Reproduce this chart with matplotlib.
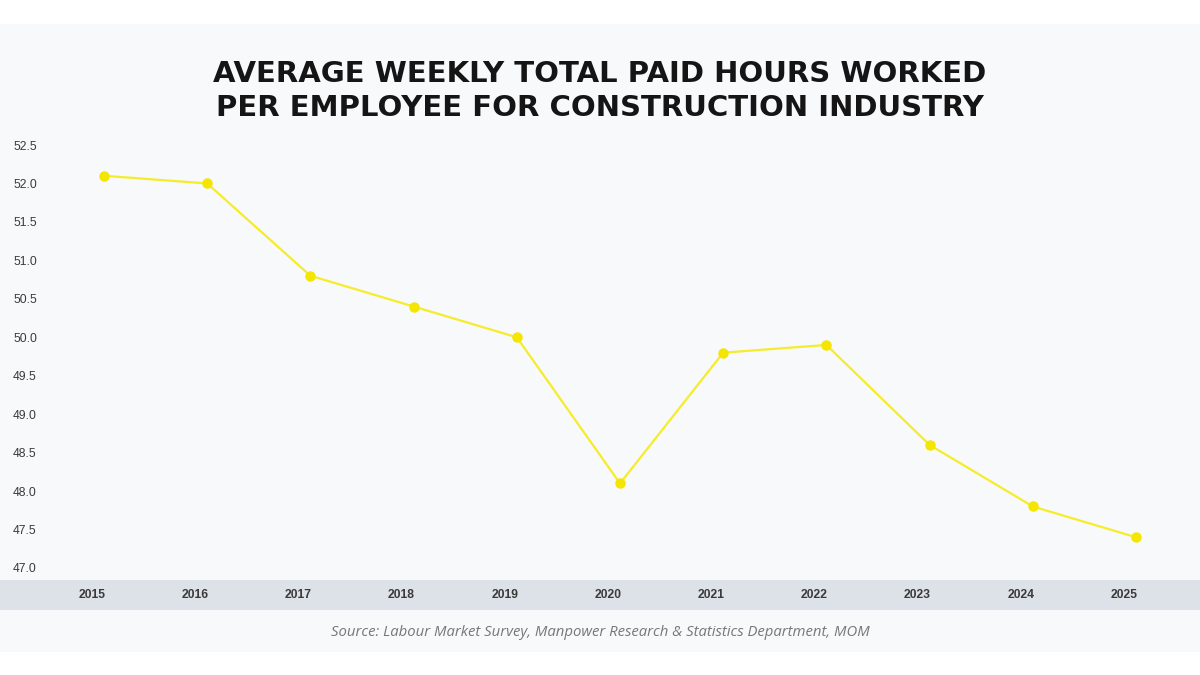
import matplotlib
matplotlib.use("Agg")
import matplotlib.pyplot as plt
from matplotlib.patches import Rectangle
import matplotlib.transforms as mtransforms

years = [2015, 2016, 2017, 2018, 2019, 2020, 2021, 2022, 2023, 2024, 2025]
hours = [52.1, 52.0, 50.8, 50.4, 50.0, 48.1, 49.8, 49.9, 48.6, 47.8, 47.4]
yticks = [47.0, 47.5, 48.0, 48.5, 49.0, 49.5, 50.0, 50.5, 51.0, 51.5, 52.0, 52.5]
title = "AVERAGE WEEKLY TOTAL PAID HOURS WORKED\nPER EMPLOYEE FOR CONSTRUCTION INDUSTRY"
source = "Source: Labour Market Survey, Manpower Research & Statistics Department, MOM"

W, H = 1200, 675
fig = plt.figure(figsize=(12, 6.75), dpi=100)
fig.patch.set_facecolor("white")

def fy(py):
    return 1 - py / H

# background axes for panel and band
bg = fig.add_axes([0, 0, 1, 1], zorder=-5)
bg.set_xlim(0, W)
bg.set_ylim(H, 0)
bg.axis("off")
bg.add_patch(Rectangle((0, 24), W, 652 - 24, facecolor="#f8f9fb", edgecolor="none"))
bg.add_patch(Rectangle((0, 580), W, 30, facecolor="#dde1e8", edgecolor="none"))

ax = fig.add_axes([0, fy(580), 1, (580 - 140) / H], zorder=1)
ax.set_facecolor("none")
px_per_half = (568 - 145) / 11.0
ax.set_ylim(47.0 - 12 / px_per_half * 0.5, 52.5 + 5 / px_per_half * 0.5)
px_per_year = (1136 - 104) / 10.0
ax.set_xlim(2015 - 104 / px_per_year, 2025 + 64 / px_per_year)

ax.plot(years, hours, color="#f5ec2a", lw=1.6, marker="o", ms=6.5,
        markerfacecolor="#f4e600", markeredgecolor="#f4e600", zorder=3)

for s in ax.spines.values():
    s.set_visible(False)

ax.set_yticks(yticks)
ax.set_yticklabels([f"{v:.1f}" for v in yticks])
ax.tick_params(axis="y", length=0, pad=-9.4, labelsize=8.7, labelcolor="#3a3a3a")
for lbl in ax.get_yticklabels():
    lbl.set_horizontalalignment("left")
    lbl.set_family("Liberation Sans")

ax.set_xticks(years)
ax.set_xticklabels([str(y) for y in years])
ax.tick_params(axis="x", length=0, pad=6.5, labelsize=8.7, labelcolor="#3a3a3a")
offset = mtransforms.ScaledTranslation(-12 / 100, 0, fig.dpi_scale_trans)
for lbl in ax.get_xticklabels():
    lbl.set_transform(lbl.get_transform() + offset)
    lbl.set_fontweight("bold")
    lbl.set_family("Liberation Sans")

fig.text(0.5, fy(91), title, ha="center", va="center", fontsize=21,
         fontweight="bold", family="DejaVu Sans", color="#151515", linespacing=1.25)
fig.text(0.5, fy(633), source, ha="center", va="center", fontsize=10.7,
         style="italic", family="Open Sans", color="#777777")

fig.savefig("out.png", dpi=100, facecolor=fig.get_facecolor())
